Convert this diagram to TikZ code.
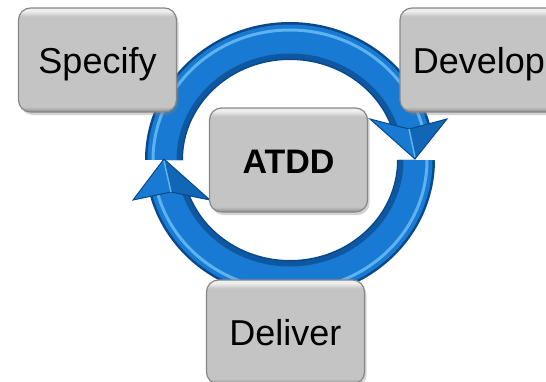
\documentclass[tikz,border=0pt]{standalone}
\usepackage{fontspec}
\setmainfont{Liberation Sans}
\usetikzlibrary{shadows}

\definecolor{boxgray}{RGB}{196,196,196}
\definecolor{boxrim}{RGB}{135,135,135}
\definecolor{boxlight}{RGB}{238,238,238}
\definecolor{boxdark}{RGB}{140,140,140}
\definecolor{ringblue}{RGB}{24,122,210}
\definecolor{ringdark}{RGB}{10,72,140}
\definecolor{ringlight}{RGB}{95,178,240}

\pgfdeclareverticalshading{bevel}{100bp}{color(0bp)=(boxdark); color(25bp)=(boxdark); color(27.5bp)=(boxgray); color(71bp)=(boxgray); color(73.5bp)=(boxlight); color(75bp)=(boxlight); color(100bp)=(boxlight)}

\begin{document}
\begin{tikzpicture}[
    x=1pt, y=1pt,
    stage/.style={rectangle, rounded corners=12pt, draw=boxrim, line width=1.2pt,
        shade, shading=bevel, minimum width=158pt, minimum height=104pt,
        inner sep=0pt, text height=26pt, text depth=0pt,
        font=\fontsize{36}{40}\selectfont,
        drop shadow={shadow xshift=2pt, shadow yshift=-3pt, opacity=0.35}},
    key stage/.style={stage, font=\fontsize{34}{40}\selectfont\bfseries},
    band/.style={line width=38pt, ringdark},
    band fill/.style={line width=33pt, ringblue},
    band shine/.style={line width=3pt, ringlight},
    band shade/.style={line width=5pt, ringdark!70!ringblue},
    arrow head/.style={fill=ringblue, draw=ringdark, line width=1pt},
    head shade/.style={fill=ringdark, opacity=0.4}
]

\clip (0,0) rectangle (546,-381);

% Ring
\coordinate (hub) at (290,-160);
\foreach \from/\to in {180/14, 0/-166} {
    \draw[band] (hub) ++(\from:126 and 119)
        arc[start angle=\from, end angle=\to, x radius=126, y radius=119];
    \draw[band fill] (hub) ++(\from:126 and 119)
        arc[start angle=\from, end angle=\to, x radius=126, y radius=119];
    \draw[band shine] (hub) ++(\from:137 and 130)
        arc[start angle=\from, end angle=\to, x radius=137, y radius=130];
    \draw[band shade] (hub) ++(\from:111 and 104)
        arc[start angle=\from, end angle=\to, x radius=111, y radius=104];
}

% Arrow heads
\path[arrow head] (370,-119) -- (415,-159) -- (447,-119) -- (409,-129) -- cycle;
\fill[head shade] (409,-129) -- (415,-159) -- (447,-119) -- cycle;
\draw[ringlight, line width=1.5pt] (409,-129) -- (415,-157);

\path[arrow head] (133,-200) -- (164,-159) -- (210,-200) -- (171,-192) -- cycle;
\fill[head shade] (171,-192) -- (164,-159) -- (210,-200) -- cycle;
\draw[ringlight, line width=1.5pt] (171,-192) -- (164,-161);

% Stages
\node[stage] (specify) at (97.5,-60) {Specify};
\node[stage] (develop) at (479,-60) {Develop};
\node[key stage] (atdd) at (288.5,-160) {ATDD};
\node[stage] (deliver) at (285.5,-332) {Deliver};

\end{tikzpicture}
\end{document}
